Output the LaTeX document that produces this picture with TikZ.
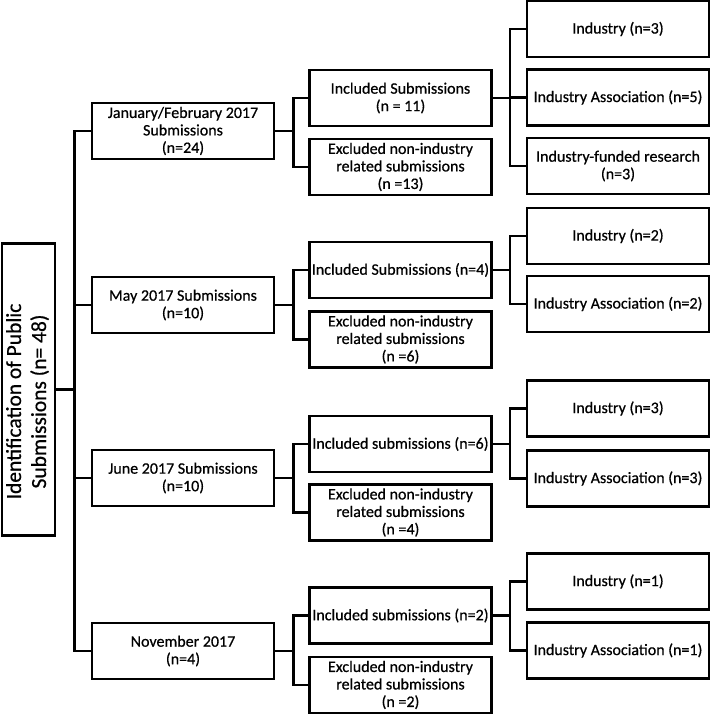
\documentclass[tikz,border=0pt]{standalone}
\usepackage{fontspec}
\setmainfont{Carlito}[FakeBold=0.6]
\begin{document}
\begin{tikzpicture}[x=1pt,y=-1pt,line width=2.6pt,
  box/.style={draw,inner sep=0pt,minimum width=182pt,minimum height=56pt,
    align=center,font=\fontsize{16}{17.5}\selectfont},
  link/.style={line width=2.6pt}]
  \useasboundingbox (0,0) rectangle (710,714);
  % root
  \node[draw,inner sep=0pt,minimum width=53pt,minimum height=292pt] (root) at (28.5,389.5)
    {\rotatebox{90}{\fontsize{21.5}{25}\selectfont\begin{tabular}{@{}c@{}}Identification of Public\\Submissions (n= 48)\end{tabular}\hspace*{24pt}}};
  % rounds
  \node[box] (jan) at (183,131) {January/February 2017\\Submissions\\(n=24)};
  \node[box] (may) at (183,305) {May 2017 Submissions\\(n=10)};
  \node[box] (jun) at (183,478) {June 2017 Submissions\\(n=10)};
  \node[box] (nov) at (183,651) {November 2017\\(n=4)};
  % included / excluded
  \node[box] (janinc) at (400.5,98) {Included Submissions\\(n = 11)};
  \node[box] (janexc) at (400.5,167) {Excluded non-industry\\related submissions\\(n =13)};
  \node[box] (mayinc) at (400.5,270) {Included Submissions (n=4)};
  \node[box] (mayexc) at (400.5,339.5) {Excluded non-industry\\related submissions\\(n =6)};
  \node[box] (juninc) at (400.5,444) {Included submissions (n=6)};
  \node[box] (junexc) at (400.5,512.5) {Excluded non-industry\\related submissions\\(n =4)};
  \node[box] (novinc) at (400.5,615.5) {Included submissions (n=2)};
  \node[box] (novexc) at (400.5,685) {Excluded non-industry\\related submissions\\(n =2)};
  % sources
  \node[box] (janind) at (618,29) {Industry (n=3)};
  \node[box] (janass) at (618,97.5) {Industry Association (n=5)};
  \node[box] (janfund) at (618,166) {Industry-funded research\\(n=3)};
  \node[box] (mayind) at (618,236) {Industry (n=2)};
  \node[box] (mayass) at (618,304) {Industry Association (n=2)};
  \node[box] (junind) at (618,408.5) {Industry (n=3)};
  \node[box] (junass) at (618,478.5) {Industry Association (n=3)};
  \node[box] (novind) at (618,581.5) {Industry (n=1)};
  \node[box] (novass) at (618,650.5) {Industry Association (n=1)};
  % trunk
  \draw[link] (root.east) -- ++(18,0) coordinate (trunk);
  \draw[link] (jan.west) -| (trunk) |- (nov.west);
  \draw[link] (trunk |- may.west) -- (may.west);
  \draw[link] (trunk |- jun.west) -- (jun.west);
  % rounds to included/excluded
  \draw[link] (jan.east) -- ++(18,0) coordinate (janb);
  \draw[link] (janinc.west) -| (janb) |- (janexc.west);
  \draw[link] (may.east) -- ++(18,0) coordinate (mayb);
  \draw[link] (mayinc.west) -| (mayb) |- (mayexc.west);
  \draw[link] (jun.east) -- ++(18,0) coordinate (junb);
  \draw[link] (juninc.west) -| (junb) |- (junexc.west);
  \draw[link] (nov.east) -- ++(18,0) coordinate (novb);
  \draw[link] (novinc.west) -| (novb) |- (novexc.west);
  % included to sources
  \draw[link] (janinc.east) -- ++(17,0) coordinate (janib);
  \draw[link] (janind.west) -| (janib) |- (janfund.west);
  \draw[link] (janib |- janass.west) -- (janass.west);
  \draw[link] (mayinc.east) -- ++(17,0) coordinate (mayib);
  \draw[link] (mayind.west) -| (mayib) |- (mayass.west);
  \draw[link] (juninc.east) -- ++(17,0) coordinate (junib);
  \draw[link] (junind.west) -| (junib) |- (junass.west);
  \draw[link] (novinc.east) -- ++(17,0) coordinate (novib);
  \draw[link] (novind.west) -| (novib) |- (novass.west);
\end{tikzpicture}
\end{document}
